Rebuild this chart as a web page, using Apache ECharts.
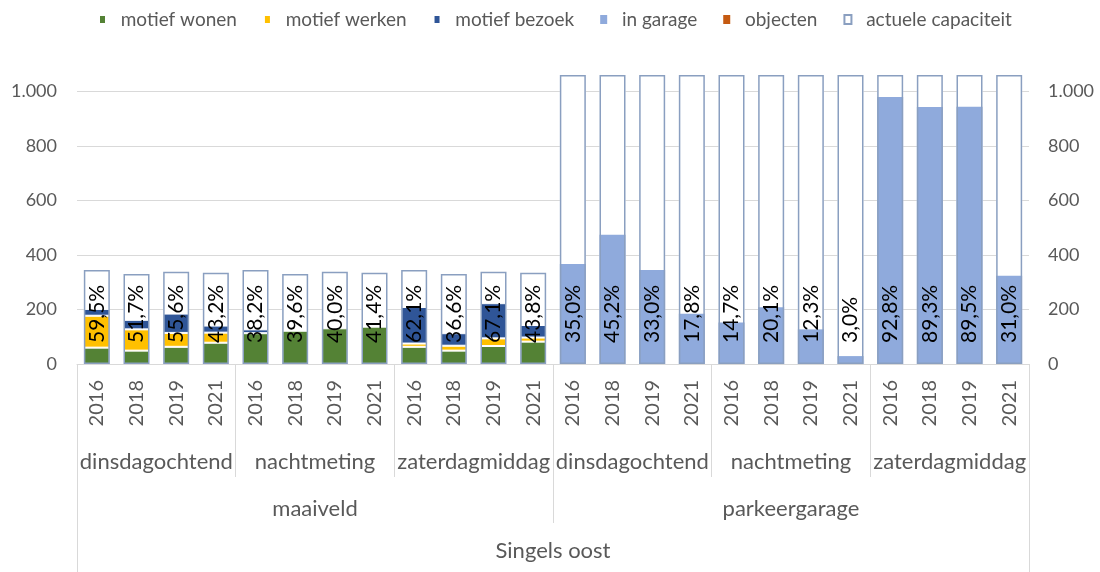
<!DOCTYPE html>
<html>
<head>
<meta charset="utf-8">
<script src="https://cdn.jsdelivr.net/npm/echarts@6/dist/echarts.min.js"></script>
<style>
    html, body { margin: 0; padding: 0; background: #fff; }
    #main { width: 1100px; height: 572px; }
</style>
</head>
<body>
<div id="main"></div>
<script>
// categorieen (3 niveaus + jaren)
var jaren = ['2016', '2018', '2019', '2021', '2016', '2018', '2019', '2021', '2016', '2018', '2019', '2021',
             '2016', '2018', '2019', '2021', '2016', '2018', '2019', '2021', '2016', '2018', '2019', '2021'];
var momenten = ['dinsdagochtend', 'nachtmeting', 'zaterdagmiddag', 'dinsdagochtend', 'nachtmeting', 'zaterdagmiddag'];
var locaties = ['maaiveld', 'parkeergarage'];
var gebied = ['Singels oost'];

// waarden per reeks
var motiefWonen  = [60, 49, 63, 78, 113, 122, 131, 137, 63, 49, 66, 82, 0, 0, 0, 0, 0, 0, 0, 0, 0, 0, 0, 0];
var motiefWerken = [117, 78, 51, 37, 0, 0, 0, 0, 12, 18, 28, 15, 0, 0, 0, 0, 0, 0, 0, 0, 0, 0, 0, 0];
var motiefBezoek = [25, 35, 71, 26, 14, 3, 0, 0, 134, 46, 129, 46, 0, 0, 0, 0, 0, 0, 0, 0, 0, 0, 0, 0];
var inGarage     = [0, 0, 0, 0, 0, 0, 0, 0, 0, 0, 0, 0, 367, 474, 345, 184, 152, 208, 127, 29, 979, 943, 944, 324];
var objecten     = [0, 0, 0, 0, 0, 0, 0, 0, 0, 0, 0, 0, 0, 0, 0, 0, 0, 0, 0, 0, 0, 0, 0, 0];
var capaciteit   = [345, 330, 338, 335, 345, 330, 338, 335, 345, 330, 338, 335,
                    1060, 1060, 1060, 1060, 1060, 1060, 1060, 1060, 1060, 1060, 1060, 1060];
var bezetting    = ['59,5%', '51,7%', '55,6%', '43,2%', '38,2%', '39,6%', '40,0%', '41,4%', '62,1%', '36,6%', '67,1%', '43,8%',
                    '35,0%', '45,2%', '33,0%', '17,8%', '14,7%', '20,1%', '12,3%', '3,0%', '92,8%', '89,3%', '89,5%', '31,0%'];

var font = 'Lato';
var grijs = '#595959';
var lijn = '#D9D9D9';

function leeg(arr) {
    return arr.map(function (v) { return v ? v : '-'; });
}

var myChart = echarts.init(document.getElementById('main'));

function stapel(naam, data, kleur, rand) {
    return {
        name: naam,
        type: 'bar',
        stack: 'bezet',
        data: leeg(data),
        barWidth: 26,
        barGap: '-100%',
        itemStyle: {
            color: kleur,
            borderColor: '#fff',
            borderWidth: rand ? 1 : 0
        },
        emphasis: { disabled: true }
    };
}

function niveau(data, marge, lengte) {
    return {
        type: 'category',
        position: 'bottom',
        data: data,
        axisLine: { show: false },
        axisTick: { show: true, interval: 0, length: lengte, lineStyle: { color: lijn } },
        axisLabel: { interval: 0, margin: marge, fontSize: 22, color: grijs, fontFamily: font }
    };
}

myChart.setOption({
    animation: false,
    textStyle: { fontFamily: font },
    legend: {
        top: 5,
        left: 93,
        itemWidth: 7,
        itemHeight: 9,
        itemGap: 26,
        icon: 'rect',
        data: ['motief wonen', 'motief werken', 'motief bezoek', 'in garage', 'objecten', 'actuele capaciteit'],
        formatter: function (n) { return '  ' + n; },
        textStyle: { fontSize: 19, color: grijs, fontFamily: font }
    },
    grid: { left: 77, right: 71, top: 75, bottom: 208 },
    xAxis: [
        {
            type: 'category',
            position: 'bottom',
            data: jaren,
            axisLine: { lineStyle: { color: lijn } },
            axisTick: { show: false },
            axisLabel: { interval: 0, rotate: 90, margin: 16, fontSize: 20, color: grijs, fontFamily: font }
        },
        niveau(momenten, 87, 113),
        niveau(locaties, 134, 159),
        niveau(gebied, 176, 208)
    ],
    yAxis: [
        {
            type: 'value',
            min: 0,
            max: 1060,
            interval: 200,
            axisLine: { show: false },
            axisTick: { show: false },
            splitLine: { lineStyle: { color: lijn }, showMaxLine: false },
            axisLabel: {
                margin: 20, fontSize: 18, color: grijs, fontFamily: font, showMaxLabel: false,
                formatter: function (v) { return v === 1000 ? '1.000' : String(v); }
            }
        },
        {
            type: 'value',
            position: 'right',
            min: 0,
            max: 1060,
            interval: 200,
            axisLine: { show: false },
            axisTick: { show: false },
            splitLine: { show: false },
            axisLabel: {
                margin: 19, fontSize: 18, color: grijs, fontFamily: font, showMaxLabel: false,
                formatter: function (v) { return v === 1000 ? '1.000' : String(v); }
            }
        }
    ],
    series: [
        {
            // witte vulling achter de gestapelde staven
            name: 'achtergrond',
            type: 'bar',
            data: capaciteit,
            barWidth: 26,
            barGap: '-100%',
            silent: true,
            itemStyle: { color: '#fff' }
        },
        stapel('motief wonen', motiefWonen, '#548235', true),
        stapel('motief werken', motiefWerken, '#FFC000', true),
        stapel('motief bezoek', motiefBezoek, '#2F5597', true),
        stapel('in garage', inGarage, '#8FAADC', false),
        stapel('objecten', objecten, '#C55A11', false),
        {
            name: 'actuele capaciteit',
            type: 'bar',
            data: capaciteit,
            barWidth: 26,
            barGap: '-100%',
            itemStyle: { color: 'rgba(255,255,255,0)', borderColor: '#8A9FC0', borderWidth: 1.5 },
            emphasis: { disabled: true },
            label: {
                show: true,
                position: 'insideBottom',
                distance: 21,
                rotate: 90,
                align: 'left',
                verticalAlign: 'middle',
                fontSize: 21,
                color: '#000',
                fontFamily: font,
                formatter: function (p) { return bezetting[p.dataIndex]; }
            }
        }
    ]
});
</script>
</body>
</html>
